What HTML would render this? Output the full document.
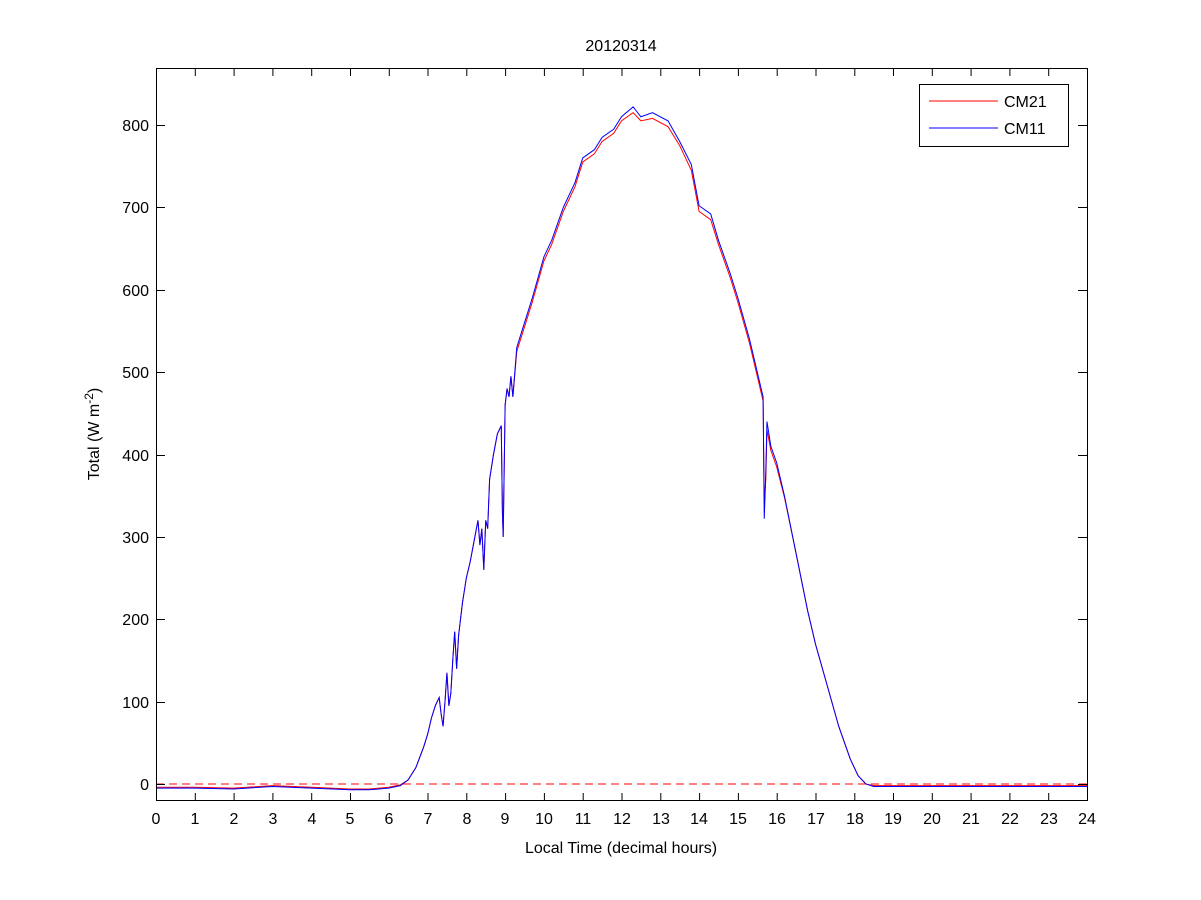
<!DOCTYPE html>
<html><head><meta charset="utf-8"><style>body{margin:0;background:#fff}svg{display:block}text{font-family:"Liberation Sans",Arial,sans-serif;font-size:16px;fill:#000}</style></head>
<body>
<svg width="1201" height="900" viewBox="0 0 1201 900">
<rect x="0" y="0" width="1201" height="900" fill="#fff"/>
<text x="621" y="51" text-anchor="middle">20120314</text>
<g transform="translate(156,784) scale(38.7917,-0.82375)" fill="none">
<line x1="0" y1="0" x2="24" y2="0" stroke="#f00" stroke-width="1" stroke-dasharray="8,5" vector-effect="non-scaling-stroke"/>
<polyline stroke="#f00" vector-effect="non-scaling-stroke" stroke-width="1" points="0,-4 1,-4 2,-5 3,-2 4,-4 5,-6 5.5,-6 6,-4 6.3,-1 6.5,5 6.7,20 6.9,45 7.0,60 7.1,80 7.2,95 7.3,105 7.35,85 7.4,70 7.45,100 7.5,135 7.55,95 7.6,110 7.65,150 7.7,185 7.75,140 7.8,180 7.9,220 8.0,250 8.1,270 8.2,295 8.3,320 8.35,290 8.4,310 8.45,260 8.5,320 8.55,310 8.6,370 8.7,400 8.8,425 8.9,435 8.93,330 8.95,300 9.0,460 9.05,480 9.1,470 9.15,495 9.2,470 9.3,525 9.5,555 9.7,585 10,635 10.2,655 10.5,695 10.8,725 11,755 11.3,765 11.5,780 11.8,790 12,805 12.3,815 12.5,805 12.8,808 13.2,798 13.5,775 13.8,745 14,695 14.3,685 14.5,655 14.8,615 15,585 15.3,535 15.5,495 15.6,475 15.65,465 15.68,340 15.72,370 15.75,430 15.85,405 16,385 16.2,348 16.5,280 16.8,210 17,170 17.3,120 17.6,70 17.9,30 18.1,10 18.3,0 18.5,-2 19,-2 24,-2"/>
<polyline stroke="#00f" vector-effect="non-scaling-stroke" stroke-width="1" points="0,-5 1,-5 2,-6 3,-3 4,-5 5,-7 5.5,-7 6,-5 6.3,-2 6.5,5 6.7,20 6.9,45 7.0,60 7.1,80 7.2,95 7.3,105 7.35,85 7.4,70 7.45,100 7.5,135 7.55,95 7.6,110 7.65,150 7.7,185 7.75,140 7.8,180 7.9,220 8.0,250 8.1,270 8.2,295 8.3,320 8.35,290 8.4,310 8.45,260 8.5,320 8.55,310 8.6,370 8.7,400 8.8,425 8.9,435 8.93,330 8.95,300 9.0,460 9.05,480 9.1,470 9.15,495 9.2,470 9.3,530 9.5,560 9.7,590 10,640 10.2,660 10.5,700 10.8,730 11,760 11.3,770 11.5,785 11.8,795 12,810 12.3,822 12.5,810 12.8,815 13.2,805 13.5,780 13.8,752 14,702 14.3,692 14.5,660 14.8,620 15,590 15.3,540 15.5,500 15.6,480 15.65,470 15.68,322 15.72,380 15.75,440 15.85,410 16,390 16.2,350 16.5,280 16.8,210 17,170 17.3,120 17.6,70 17.9,30 18.1,10 18.3,0 18.5,-3 19,-3 24,-3"/>
</g>
<rect x="156.5" y="68.5" width="931" height="732" fill="none" stroke="#000" stroke-width="1"/>
<g stroke="#000" stroke-width="1" id="ticks">
<path d="M156.5,801V793M195.3,801V793M234.1,801V793M272.9,801V793M311.7,801V793M350.5,801V793M389.3,801V793M428.0,801V793M466.8,801V793M505.6,801V793M544.4,801V793M583.2,801V793M622.0,801V793M660.8,801V793M699.6,801V793M738.4,801V793M777.2,801V793M816.0,801V793M854.8,801V793M893.5,801V793M932.3,801V793M971.1,801V793M1009.9,801V793M1048.7,801V793M1087.5,801V793"/>
<path d="M156.5,68V76M195.3,68V76M234.1,68V76M272.9,68V76M311.7,68V76M350.5,68V76M389.3,68V76M428.0,68V76M466.8,68V76M505.6,68V76M544.4,68V76M583.2,68V76M622.0,68V76M660.8,68V76M699.6,68V76M738.4,68V76M777.2,68V76M816.0,68V76M854.8,68V76M893.5,68V76M932.3,68V76M971.1,68V76M1009.9,68V76M1048.7,68V76M1087.5,68V76"/>
<path d="M156,784.5H165M156,702.5H165M156,619.5H165M156,537.5H165M156,455.5H165M156,372.5H165M156,290.5H165M156,207.5H165M156,125.5H165"/>
<path d="M1087,784.5H1078M1087,702.5H1078M1087,619.5H1078M1087,537.5H1078M1087,455.5H1078M1087,372.5H1078M1087,290.5H1078M1087,207.5H1078M1087,125.5H1078"/>
</g>
<g text-anchor="middle">
<text x="156" y="824">0</text><text x="195" y="824">1</text><text x="234" y="824">2</text><text x="273" y="824">3</text><text x="312" y="824">4</text><text x="350" y="824">5</text><text x="389" y="824">6</text><text x="428" y="824">7</text><text x="467" y="824">8</text><text x="505" y="824">9</text><text x="544" y="824">10</text><text x="583" y="824">11</text><text x="622" y="824">12</text><text x="661" y="824">13</text><text x="699" y="824">14</text><text x="738" y="824">15</text><text x="777" y="824">16</text><text x="816" y="824">17</text><text x="855" y="824">18</text><text x="893" y="824">19</text><text x="932" y="824">20</text><text x="971" y="824">21</text><text x="1010" y="824">22</text><text x="1049" y="824">23</text><text x="1087" y="824">24</text>
</g>
<g text-anchor="end">
<text x="149" y="790">0</text><text x="149" y="708">100</text><text x="149" y="625">200</text><text x="149" y="543">300</text><text x="149" y="461">400</text><text x="149" y="378">500</text><text x="149" y="296">600</text><text x="149" y="213">700</text><text x="149" y="131">800</text>
</g>
<text x="621" y="853" text-anchor="middle">Local Time (decimal hours)</text>
<text transform="translate(99,434) rotate(-90)" text-anchor="middle">Total (W m<tspan dy="-6" font-size="12">-2</tspan><tspan dy="6">)</tspan></text>
<rect x="919.5" y="84.5" width="149" height="62" fill="#fff" stroke="#000"/>
<line x1="929" y1="101" x2="998" y2="101" stroke="#f00"/>
<line x1="929" y1="128" x2="998" y2="128" stroke="#00f"/>
<text x="1004" y="107">CM21</text>
<text x="1004" y="134">CM11</text>
</svg>
</body></html>
